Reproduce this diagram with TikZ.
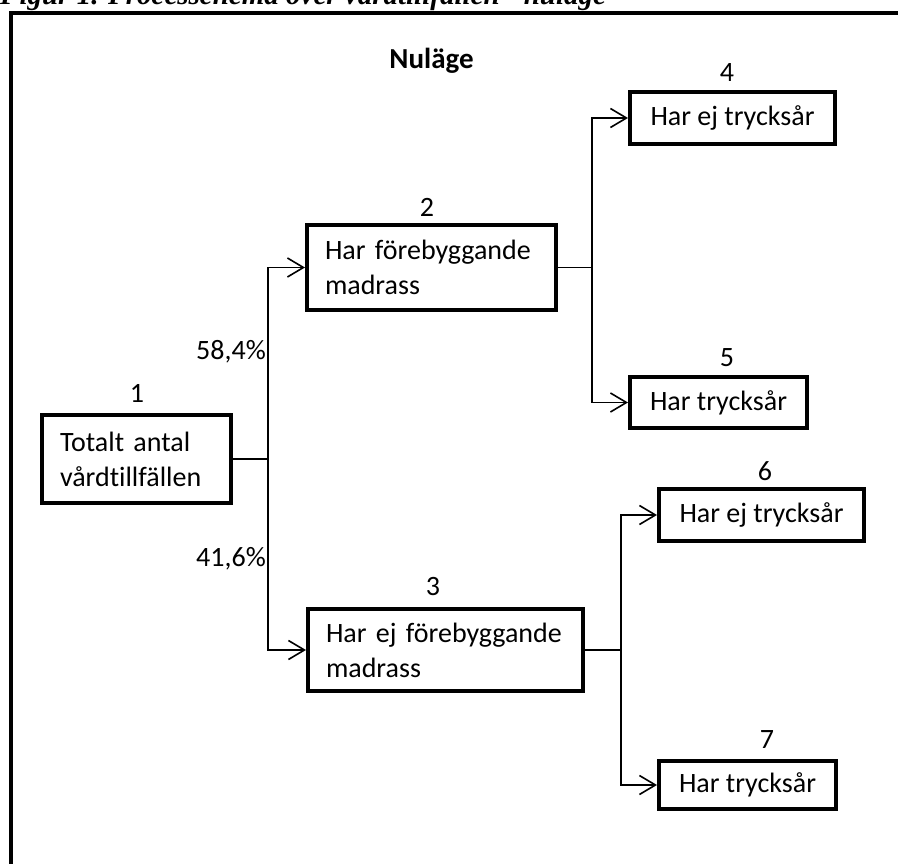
\documentclass[tikz,border=0pt]{standalone}
\usepackage{fontspec}
\setmainfont{Carlito}[Ligatures=NoCommon]
\newfontfamily\captionserif{Liberation Serif}
\usetikzlibrary{arrows.meta, positioning}
\hyphenpenalty=10000

\tikzset{
  box/.style={draw, line width=4pt, inner xsep=18pt, inner ysep=0pt,
    font=\fontsize{28}{35}\selectfont},
  conn/.style={line width=1.6pt},
  arr/.style={conn, -{Straight Barb[length=16pt, width=19pt]}},
  num/.style={font=\fontsize{28}{34}\selectfont, inner sep=0pt},
}

\begin{document}
\begin{tikzpicture}[x=1pt, y=-1pt]
  \useasboundingbox (0,0) rectangle (898,864);
  \clip (0,0) rectangle (898,864);
  % caption, cut off by the top edge
  \node[anchor=base west, inner sep=0pt,
    font=\captionserif\bfseries\itshape\fontsize{29}{32}\selectfont] (caption) at (0,4.5)
    {Figur 1. Processchema över vårdtillfällen - nuläge};
  % frame
  \draw[line width=4pt] (11,13) rectangle (920,900);
  \node[font=\bfseries\fontsize{29}{34}\selectfont, anchor=base, inner sep=0pt] (title) at (431.5,69) {Nuläge};

  % boxes
  \node[box, text width=153pt, minimum height=88pt, align=left] (b1) at (136.5,459) {Totalt antal\\vårdtillfällen};
  \node[box, text width=213pt, minimum height=85pt, align=left] (b2) at (431.5,267.5) {Har~förebyggande\\madrass};
  \node[box, text width=239pt, minimum height=82pt, align=left] (b3) at (445.5,650) {Har~ej~förebyggande\\madrass};
  \node[box, minimum width=205pt, minimum height=52pt] (b4) at (732.5,118) {Har ej trycksår};
  \node[box, minimum width=177pt, minimum height=51pt] (b5) at (718.5,402.5) {Har trycksår};
  \node[box, minimum width=205pt, minimum height=52pt] (b6) at (761.5,515) {Har ej trycksår};
  \node[box, minimum width=177pt, minimum height=48pt] (b7) at (747.5,785) {Har trycksår};

  % numbers
  \node[num] (n1) at (137,393) {1};
  \node[num] (n2) at (427,207) {2};
  \node[num] (n3) at (433,587) {3};
  \node[num] (n4) at (727,73) {4};
  \node[num] (n5) at (727,358) {5};
  \node[num] (n6) at (765,471) {6};
  \node[num] (n7) at (767,740) {7};

  % shares
  \node[num, anchor=east] (p1) at (266,352) {58,4\%};
  \node[num, anchor=east] (p2) at (266,559) {41,6\%};

  % connectors
  \draw[conn] (b1.east) -- ++(35,0) coordinate (j1);
  \draw[arr] (j1) |- (b2.west);
  \draw[arr] (j1) |- (b3.west);
  \draw[conn] (b2.east) -- ++(34,0) coordinate (j2);
  \draw[arr] (j2) |- (b4.west);
  \draw[arr] (j2) |- (b5.west);
  \draw[conn] (b3.east) -- ++(36,0) coordinate (j3);
  \draw[arr] (j3) |- (b6.west);
  \draw[arr] (j3) |- (b7.west);
\end{tikzpicture}
\end{document}
